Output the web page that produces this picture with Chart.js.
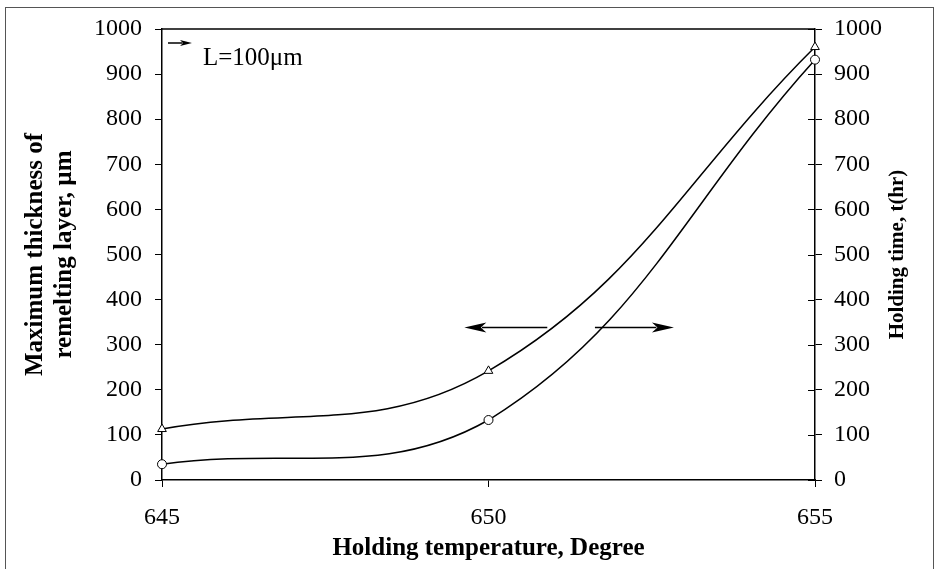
<!DOCTYPE html>
<html><head><meta charset="utf-8">
<script src="https://cdn.jsdelivr.net/npm/chart.js@4.4.1/dist/chart.umd.min.js"></script>
<style>
html,body{margin:0;padding:0;background:#fff;}
#wrap{position:relative;width:937px;height:569px;overflow:hidden;}
#frame{position:absolute;left:5px;top:7px;width:927px;height:600px;border:1px solid #555;pointer-events:none;}
</style></head><body>
<div id="wrap"><canvas id="c" width="937" height="569"></canvas><div id="frame"></div></div>
<script>
// ---- data ----
const temperatures = [645, 650, 655];                 // Holding temperature, Degree
const thicknessValues = [113, 242, 960];              // triangles: Maximum thickness of remelting layer, µm (left axis)
const holdingTimeValues = [35, 133, 932];             // circles: Holding time, t(hr) (right axis)
const xTickValues = [645, 650, 655];
const yTickValues = [0, 100, 200, 300, 400, 500, 600, 700, 800, 900, 1000];
const leftTitle = ['Maximum thickness of', 'remelting layer, \u00b5m'];
const rightTitle = 'Holding time, t(hr)';
const xTitle = 'Holding temperature, Degree';
const noteText = 'L=100\u03bcm';

const SERIF = "'Liberation Serif','Times New Roman',serif";

const annot = {
  id: 'annot',
  afterDatasetsDraw(chart) {
    const {ctx, chartArea: a, scales: {x, y, y2}} = chart;
    ctx.save();
    ctx.strokeStyle = '#000'; ctx.fillStyle = '#000';
    // top frame line
    ctx.lineWidth = 1.5;
    ctx.beginPath(); ctx.moveTo(a.left, a.top); ctx.lineTo(a.right, a.top); ctx.stroke();
    // inner ticks on right axis
    ctx.lineWidth = 1;
    yTickValues.forEach(v => {
      const py = Math.round(y2.getPixelForValue(v)) + 0.5;
      ctx.beginPath(); ctx.moveTo(a.right - 7, py); ctx.lineTo(a.right, py); ctx.stroke();
    });
    // arrows
    function arrow(fromX, toX, py, headLen, halfW, lw) {
      const dir = Math.sign(toX - fromX);
      ctx.lineWidth = lw;
      ctx.beginPath(); ctx.moveTo(fromX, py); ctx.lineTo(toX - dir * headLen * 0.8, py); ctx.stroke();
      ctx.beginPath();
      ctx.moveTo(toX, py);
      ctx.lineTo(toX - dir * headLen, py - halfW);
      ctx.lineTo(toX - dir * headLen * 0.75, py);
      ctx.lineTo(toX - dir * headLen, py + halfW);
      ctx.closePath(); ctx.fill();
    }
    const ay = Math.round(y.getPixelForValue(340)) + 0.5;
    arrow(x.getPixelForValue(650.9), x.getPixelForValue(649.63), ay, 22, 5, 1.5);
    arrow(x.getPixelForValue(651.63), x.getPixelForValue(652.84), ay, 22, 5, 1.5);
    // small note arrow + text
    arrow(a.left + 6, a.left + 30, a.top + 14, 12, 3, 1.5);
    ctx.font = '25px ' + SERIF;
    ctx.textBaseline = 'middle'; ctx.textAlign = 'left';
    ctx.fillText(noteText, a.left + 41, a.top + 29);
    // right axis title (reads bottom-to-top)
    ctx.font = 'bold 21px ' + SERIF;
    ctx.translate(898, (a.top + a.bottom) / 2);
    ctx.rotate(-Math.PI / 2);
    ctx.textAlign = 'center'; ctx.textBaseline = 'middle';
    ctx.fillText(rightTitle, 0, 0);
    ctx.restore();
  }
};

const tickFont = {family: SERIF, size: 24};
const titleFont = {family: SERIF, size: 25, weight: 'bold', lineHeight: '29px'};
const plainLabel = v => String(v);

new Chart(document.getElementById('c'), {
  type: 'line',
  data: {
    datasets: [
      {
        label: 'Maximum thickness of remelting layer, \u00b5m',
        data: temperatures.map((t, i) => ({x: t, y: thicknessValues[i]})),
        yAxisID: 'y', clip: false,
        borderColor: '#000', borderWidth: 1.5, tension: 0.4,
        pointStyle: 'triangle', pointRadius: 5, pointBorderWidth: 1,
        pointBackgroundColor: '#fff', pointBorderColor: '#000', fill: false
      },
      {
        label: 'Holding time, t(hr)',
        data: temperatures.map((t, i) => ({x: t, y: holdingTimeValues[i]})),
        yAxisID: 'y2', clip: false,
        borderColor: '#000', borderWidth: 1.5, tension: 0.4,
        pointStyle: 'circle', pointRadius: 4.5, pointBorderWidth: 1,
        pointBackgroundColor: '#fff', pointBorderColor: '#000', fill: false
      }
    ]
  },
  options: {
    responsive: false, animation: false, devicePixelRatio: 1,
    layout: {padding: {top: 29, left: 0, right: 0, bottom: 0}},
    plugins: {legend: {display: false}, tooltip: {enabled: false}},
    scales: {
      x: {
        type: 'linear', position: 'bottom', min: 645, max: 655,
        afterBuildTicks: s => { s.ticks = xTickValues.map(v => ({value: v})); },
        afterFit: s => { s.height = 89; },
        ticks: {font: tickFont, color: '#000', padding: 16, maxRotation: 0, callback: plainLabel},
        grid: {drawOnChartArea: false, drawTicks: true, tickLength: 7, color: '#000', lineWidth: 1},
        border: {display: true, color: '#000', width: 1.5},
        title: {display: true, text: xTitle, font: titleFont, color: '#000', padding: {top: 0, bottom: 6}}
      },
      y: {
        type: 'linear', position: 'left', min: 0, max: 1000,
        afterBuildTicks: s => { s.ticks = yTickValues.map(v => ({value: v})); },
        afterFit: s => { s.width = 162; },
        ticks: {font: tickFont, color: '#000', padding: 13, callback: plainLabel},
        grid: {drawOnChartArea: false, drawTicks: true, tickLength: 7, color: '#000', lineWidth: 1},
        border: {display: true, color: '#000', width: 1.5},
        title: {display: true, text: leftTitle, font: titleFont, color: '#000', padding: {top: 21, bottom: 0}}
      },
      y2: {
        type: 'linear', position: 'right', min: 0, max: 1000,
        afterBuildTicks: s => { s.ticks = yTickValues.map(v => ({value: v})); },
        afterFit: s => { s.width = 122; },
        ticks: {font: tickFont, color: '#000', padding: 12, callback: plainLabel},
        grid: {drawOnChartArea: false, drawTicks: true, tickLength: 7, color: '#000', lineWidth: 1},
        border: {display: true, color: '#000', width: 1.5}
      }
    }
  },
  plugins: [annot]
});
</script>
</body></html>
